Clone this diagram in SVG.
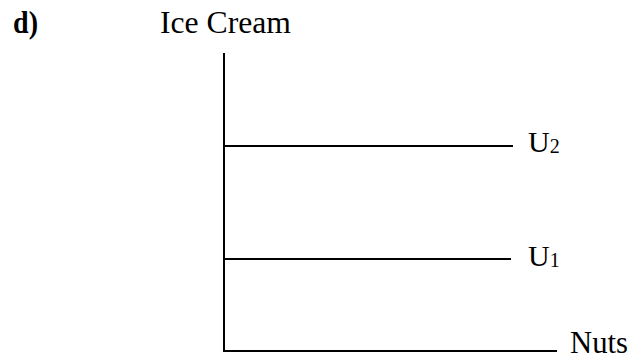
<svg xmlns="http://www.w3.org/2000/svg" width="633" height="361" viewBox="0 0 633 361">
<style>
text{font-family:"Liberation Serif","Times New Roman",serif;fill:#000;font-size:31px}
.ln{stroke:#000;stroke-width:2;fill:none}
.u{font-size:30px}
.sub{font-size:20px}
</style>
<rect width="633" height="361" fill="#fff"/>
<text x="13" y="33" font-weight="bold" font-size="29" textLength="25" lengthAdjust="spacingAndGlyphs">d)</text>
<g id="axes">
<text x="160" y="33" textLength="131" lengthAdjust="spacingAndGlyphs">Ice Cream</text>
<path class="ln" d="M224 53 V352 M223 351 H557"/>
<text x="570" y="353" textLength="58" lengthAdjust="spacingAndGlyphs">Nuts</text>
</g>
<g id="U2">
<path class="ln" d="M224 146 H513"/>
<text class="u" x="528" y="152">U<tspan class="sub" dy="1">2</tspan></text>
</g>
<g id="U1">
<path class="ln" d="M224 259 H511"/>
<text class="u" x="528" y="266">U<tspan class="sub" dy="1">1</tspan></text>
</g>
</svg>
